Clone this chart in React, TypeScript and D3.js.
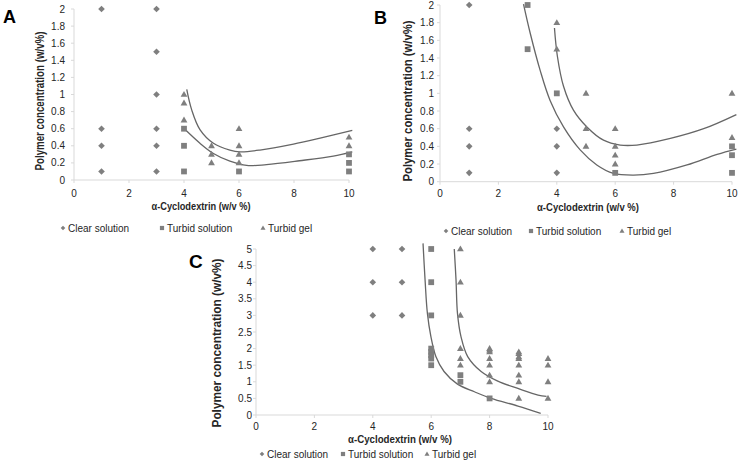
import React from "react";
import * as d3 from "d3";

type P = [number, number];

// ---- shared ticks ----
const xTicks = [0, 2, 4, 6, 8, 10];
const yTicksAB = [0, 0.2, 0.4, 0.6, 0.8, 1, 1.2, 1.4, 1.6, 1.8, 2];
const yTicksC = [0, 0.5, 1, 1.5, 2, 2.5, 3, 3.5, 4, 4.5, 5];
const legendLabels = ["Clear solution", "Turbid solution", "Turbid gel"];
const xTitle = "α-Cyclodextrin  (w/v %)";
const yTitle = "Polymer concentration (w/v%)";

// ---- panel A ----
const clearA: P[] = [[1, 2], [1, 0.6], [1, 0.4], [1, 0.1], [3, 2], [3, 1.5], [3, 1], [3, 0.6], [3, 0.4], [3, 0.1]];
const turbidSolA: P[] = [[4, 0.6], [4, 0.4], [4, 0.1], [6, 0.1], [10, 0.3], [10, 0.2], [10, 0.1]];
const turbidGelA: P[] = [[4, 1], [4, 0.9], [4, 0.7], [5, 0.4], [5, 0.3], [5, 0.2], [6, 0.6], [6, 0.4], [6, 0.3], [6, 0.2], [10, 0.5], [10, 0.4]];
const curveA1: P[] = [[4.1, 1.06], [4.28, 0.82], [4.58, 0.59], [5.07, 0.43], [5.67, 0.35], [6.04, 0.33], [6.76, 0.35], [7.98, 0.42], [8.95, 0.49], [10.12, 0.58]];
const curveA2: P[] = [[4.04, 0.59], [4.58, 0.43], [5.07, 0.31], [5.67, 0.22], [6.28, 0.17], [7.0, 0.18], [8.2, 0.225], [9.43, 0.28], [10.12, 0.33]];

// ---- panel B ----
const clearB: P[] = [[1, 2], [1, 0.6], [1, 0.4], [1, 0.1], [4, 0.6], [4, 0.4], [4, 0.1]];
const turbidSolB: P[] = [[3, 2], [3, 1.5], [4, 1], [6, 0.1], [10, 0.4], [10, 0.3], [10, 0.1]];
const turbidGelB: P[] = [[4, 1.8], [4, 1.5], [5, 1], [5, 0.6], [5, 0.4], [6, 0.6], [6, 0.4], [6, 0.3], [6, 0.2], [10, 1], [10, 0.5]];
const curveB1: P[] = [[2.86, 2.01], [3.09, 1.68], [3.43, 1.26], [3.77, 0.92], [4.23, 0.62], [4.8, 0.36], [5.37, 0.19], [5.94, 0.094], [6.63, 0.075], [7.31, 0.094], [8.46, 0.19], [9.49, 0.31], [10.15, 0.37]];
const curveB2: P[] = [[3.92, 1.74], [4.02, 1.42], [4.23, 1.08], [4.57, 0.81], [5.03, 0.62], [5.6, 0.47], [6.17, 0.415], [6.74, 0.415], [7.89, 0.49], [9.03, 0.6], [10.15, 0.76]];

// ---- panel C ----
const clearC: P[] = [[4, 5], [4, 4], [4, 3], [5, 5], [5, 4], [5, 3]];
const turbidSolC: P[] = [[6, 5], [6, 4], [6, 3], [6, 2], [6, 1.9], [6, 1.8], [6, 1.7], [6, 1.5], [7, 1.2], [7, 1.0], [8, 0.5]];
const turbidGelC: P[] = [[7, 5], [7, 4], [7, 3], [7, 2], [7, 1.7], [7, 1.5], [8, 2], [8, 1.95], [8, 1.9], [8, 1.7], [8, 1.5], [8, 1.2], [8, 1.0], [9, 1.9], [9, 1.85], [9, 1.75], [9, 1.7], [9, 1.5], [9, 1.2], [9, 1.0], [9, 0.5], [10, 1.7], [10, 1.5], [10, 1.0], [10, 0.5]];
const curveC1: P[] = [[5.72, 5.17], [5.79, 4.07], [5.87, 3.06], [5.99, 2.36], [6.16, 1.76], [6.44, 1.31], [6.9, 0.93], [7.48, 0.7], [8.05, 0.5], [8.97, 0.27], [9.75, 0.05]];
const curveC2: P[] = [[6.79, 5.0], [6.85, 4.07], [6.9, 3.06], [7.02, 2.36], [7.25, 1.76], [7.71, 1.31], [8.28, 1.02], [8.97, 0.8], [9.66, 0.6], [9.95, 0.56]];

const MARK = "#7f7f7f";
const LINE = "#666666";
const AXIS = "#d9d9d9";
const TXT = "#262626";
const FONT = "'Liberation Sans', Arial, sans-serif";

const diamond = (r: number) => `M0,${-r}L${r},0L0,${r}L${-r},0Z`;
const square = (s: number) => `M${-s / 2},${-s / 2}h${s}v${s}h${-s}Z`;
const triangle = (s: number) => {
  const h = (s * Math.sqrt(3)) / 2;
  return `M0,${-h * 0.6}L${s / 2},${h * 0.4}L${-s / 2},${h * 0.4}Z`;
};

interface PanelProps {
  label: string;
  labelPos: P;
  labelSize: number;
  xr: P;
  yr: P;
  yMax: number;
  yTicks: number[];
  yTickX: number;
  yTickFmt: (v: number) => string;
  xTickY: number;
  xTitlePos: P;
  xTitleLen: number;
  yTitlePos: P;
  yTitleLen: number;
  legendY: number;
  legendX: number[];
  clear: P[];
  tsol: P[];
  tgel: P[];
  curves: P[][];
}

function Panel(p: PanelProps) {
  const x = d3.scaleLinear().domain([0, 10]).range(p.xr);
  const y = d3.scaleLinear().domain([0, p.yMax]).range(p.yr);
  const line = d3
    .line<P>()
    .x((d) => x(d[0]))
    .y((d) => y(d[1]))
    .curve(d3.curveCatmullRom.alpha(0.5));
  return (
    <g fontFamily={FONT}>
      <line x1={x(0)} x2={x(0)} y1={y(0)} y2={y(p.yMax)} stroke={AXIS} strokeWidth={1} />
      <line x1={x(0)} x2={x(10)} y1={y(0)} y2={y(0)} stroke={AXIS} strokeWidth={1} />
      {p.yTicks.map((t) => (
        <g key={"y" + t}>
          <line x1={x(0) - 3} x2={x(0)} y1={y(t)} y2={y(t)} stroke={AXIS} />
          <text x={p.yTickX} y={y(t)} dy="0.35em" textAnchor="end" fontSize={10} fill={TXT}>
            {p.yTickFmt(t)}
          </text>
        </g>
      ))}
      {xTicks.map((t) => (
        <g key={"x" + t}>
          <line x1={x(t)} x2={x(t)} y1={y(0)} y2={y(0) + 3} stroke={AXIS} />
          <text x={x(t)} y={p.xTickY} dy="0.35em" textAnchor="middle" fontSize={10} fill={TXT}>
            {t}
          </text>
        </g>
      ))}
      <text
        x={p.xTitlePos[0]}
        y={p.xTitlePos[1]}
        dy="0.35em"
        textAnchor="middle"
        fontSize={11}
        fontWeight="bold"
        fill={TXT}
        textLength={p.xTitleLen}
        lengthAdjust="spacingAndGlyphs"
      >
        {xTitle}
      </text>
      <text
        transform={`translate(${p.yTitlePos[0]},${p.yTitlePos[1]}) rotate(-90)`}
        dy="0.35em"
        textAnchor="middle"
        fontSize={13}
        fontWeight="bold"
        fill={TXT}
        textLength={p.yTitleLen}
        lengthAdjust="spacingAndGlyphs"
      >
        {yTitle}
      </text>
      <text x={p.labelPos[0]} y={p.labelPos[1]} fontSize={p.labelSize} fontWeight="bold" fill="#000">
        {p.label}
      </text>
      {p.curves.map((c, i) => (
        <path key={"c" + i} d={line(c) || ""} fill="none" stroke={LINE} strokeWidth={1.3} />
      ))}
      {p.clear.map((d, i) => (
        <path key={"d" + i} d={diamond(3.3)} transform={`translate(${x(d[0])},${y(d[1])})`} fill={MARK} />
      ))}
      {p.tsol.map((d, i) => (
        <path key={"s" + i} d={square(5.8)} transform={`translate(${x(d[0])},${y(d[1])})`} fill={MARK} />
      ))}
      {p.tgel.map((d, i) => (
        <path key={"t" + i} d={triangle(6.8)} transform={`translate(${x(d[0])},${y(d[1])})`} fill={MARK} />
      ))}
      {legendLabels.map((lab, i) => {
        const lx = p.legendX[i];
        const sym = i === 0 ? diamond(2.3) : i === 1 ? square(4.2) : triangle(5);
        return (
          <g key={"l" + i}>
            <path d={sym} transform={`translate(${lx},${p.legendY})`} fill={MARK} />
            <text x={lx + 5} y={p.legendY} dy="0.35em" fontSize={10} fill={TXT}>
              {lab}
            </text>
          </g>
        );
      })}
    </g>
  );
}

const fmtAB = (v: number) => (v === 0 || v === 1 || v === 2 ? String(v) : d3.format(".1f")(v));
const fmtC = (v: number) => String(v);

export default function App() {
  return (
    <svg
      width={739}
      height={466}
      style={{ position: "absolute", left: 0, top: 0, background: "#fff", display: "block" }}
    >
      <rect width={739} height={466} fill="#fff" />
      <Panel
        label="A"
        labelPos={[3, 23]}
        labelSize={18}
        xr={[74, 349]}
        yr={[180, 9]}
        yMax={2}
        yTicks={yTicksAB}
        yTickX={65}
        yTickFmt={fmtAB}
        xTickY={193}
        xTitlePos={[201, 206]}
        xTitleLen={99}
        yTitlePos={[39, 101]}
        yTitleLen={139}
        legendY={228}
        legendX={[63, 162, 263]}
        clear={clearA}
        tsol={turbidSolA}
        tgel={turbidGelA}
        curves={[curveA1, curveA2]}
      />
      <Panel
        label="B"
        labelPos={[374, 24]}
        labelSize={18}
        xr={[440, 732]}
        yr={[181.7, 5]}
        yMax={2}
        yTicks={yTicksAB}
        yTickX={434}
        yTickFmt={fmtAB}
        xTickY={193}
        xTitlePos={[588, 207]}
        xTitleLen={102}
        yTitlePos={[407, 101]}
        yTitleLen={161}
        legendY={231}
        legendX={[446, 531, 622]}
        clear={clearB}
        tsol={turbidSolB}
        tgel={turbidGelB}
        curves={[curveB1, curveB2]}
      />
      <Panel
        label="C"
        labelPos={[189, 268]}
        labelSize={19}
        xr={[256, 548]}
        yr={[415, 249]}
        yMax={5}
        yTicks={yTicksC}
        yTickX={252}
        yTickFmt={fmtC}
        xTickY={426}
        xTitlePos={[400, 439]}
        xTitleLen={104}
        yTitlePos={[216, 343]}
        yTitleLen={169}
        legendY={454}
        legendX={[262, 343, 427]}
        clear={clearC}
        tsol={turbidSolC}
        tgel={turbidGelC}
        curves={[curveC1, curveC2]}
      />
    </svg>
  );
}
